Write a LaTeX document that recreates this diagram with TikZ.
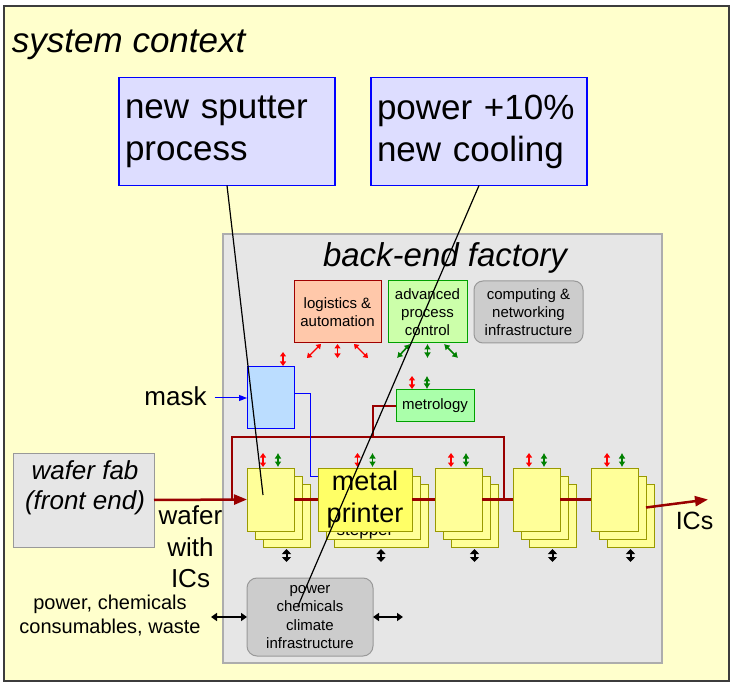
\documentclass[tikz,border=0pt]{standalone}
\usepackage{fontspec}
\setmainfont{Liberation Sans}
\usetikzlibrary{arrows.meta}
\definecolor{ctxfill}{HTML}{FFFFCC}
\definecolor{ctxline}{HTML}{3C3C3C}
\definecolor{chgfill}{HTML}{DDDDFF}
\definecolor{facfill}{HTML}{E6E6E6}
\definecolor{facline}{HTML}{ADADAD}
\definecolor{logfill}{HTML}{FFC8AA}
\definecolor{logline}{HTML}{A00000}
\definecolor{apcfill}{HTML}{CCFFAA}
\definecolor{grnline}{HTML}{00A000}
\definecolor{metfill}{HTML}{AAFFAA}
\definecolor{infill}{HTML}{CCCCCC}
\definecolor{inline}{HTML}{999999}
\definecolor{maskfill}{HTML}{BBDDFF}
\definecolor{stkfill}{HTML}{FFFF99}
\definecolor{stkfront}{HTML}{FFFF66}
\definecolor{stkline}{HTML}{999900}
\definecolor{flowred}{HTML}{990000}
\definecolor{arrgreen}{HTML}{008000}
\newcommand\szA{\fontsize{35}{42}\selectfont}
\newcommand\szB{\fontsize{33}{40}\selectfont}
\newcommand\szS{\fontsize{15}{18}\selectfont}
\begin{document}
\begin{tikzpicture}[x=1pt,y=-1pt,
  every node/.style={inner sep=0pt, outer sep=0pt},
  chg/.style={draw=blue, fill=chgfill, line width=1.3pt, minimum width=216pt, minimum height=108pt, text width=204pt, inner xsep=6pt, align=left, font=\szA},
  smallbox/.style={line width=1pt, minimum height=62pt, align=center, font=\szS},
  stk/.style={draw=stkline, fill=stkfill, line width=0.8pt, minimum width=47pt, minimum height=63pt},
  flow/.style={draw=flowred, line width=2.5pt},
  flowthin/.style={draw=flowred, line width=1.3pt},
  conn/.style={draw=black, line width=1.2pt},
  redarr/.style={red, line width=1.4pt, {Triangle[length=4.5pt,width=6pt]}-{Triangle[length=4.5pt,width=6pt]}},
  grnarr/.style={arrgreen, line width=1.6pt, {Latex[length=5.5pt,width=7pt]}-{Latex[length=5.5pt,width=7pt]}},
  blkarr/.style={black, line width=2pt, {Triangle[length=5pt,width=9pt]}-{Triangle[length=5pt,width=9pt]}},
  pwarr/.style={black, line width=2pt, {Triangle[length=6pt,width=8pt]}-{Triangle[length=6pt,width=8pt]}},
  bigtip/.style={-{Triangle[length=13pt,width=10pt]}}
]
\useasboundingbox (0,0) rectangle (731,684);
% system context
\node[draw=ctxline, fill=ctxfill, line width=2pt, minimum width=725pt, minimum height=675pt] (ctx) at (366.5,343.5) {};
\node[anchor=base west, font=\szA\itshape] (ctxt) at (12,53) {system context};
\node[chg] (sp) at (227,131.5) {new sputter\\process};
\node[chg] (pw) at (479,131.5) {power +10\%\\new cooling};
% factory
\node[draw=facline, fill=facfill, line width=1.5pt, minimum width=439pt, minimum height=429pt] (fac) at (442.5,448.5) {};
\node[anchor=base, font=\szB\itshape] (fact) at (445,267) {back-end factory};
\node[smallbox, draw=logline, fill=logfill, minimum width=87pt] (log) at (337.5,312) {logistics \&\\automation};
\node[smallbox, draw=grnline, fill=apcfill, minimum width=79pt] (apc) at (427.5,312) {advanced\\process\\control};
\node[smallbox, draw=inline, fill=infill, rounded corners=9pt, minimum width=109pt] (cmp) at (528.5,312) {computing \&\\networking\\infrastructure};
\node[smallbox, draw=grnline, fill=metfill, minimum width=78pt, minimum height=32pt] (met) at (435,406) {metrology};
\node[draw=blue, fill=maskfill, line width=1pt, minimum width=47pt, minimum height=62pt] (mask) at (270.5,398) {};
% control arrows
\draw[redarr] ([xshift=-16.5pt,yshift=-1pt]log.south) -- ++(-14,14);
\draw[redarr] ([yshift=-1pt]log.south) -- ++(0,14);
\draw[redarr] ([xshift=16.5pt,yshift=-1pt]log.south) -- ++(14,14);
\draw[grnarr] ([xshift=-17.5pt,yshift=-1pt]apc.south) -- ++(-13,14);
\draw[grnarr] ([yshift=-1pt]apc.south) -- ++(0,14);
\draw[grnarr] ([xshift=16.5pt,yshift=-1pt]apc.south) -- ++(14,14);
\draw[redarr] ([xshift=12.5pt,yshift=1pt]mask.north) -- ++(0,-14);
\draw[redarr] ([xshift=-23pt,yshift=1pt]met.north) -- ++(0,-13);
\draw[grnarr] ([xshift=-8pt,yshift=1pt]met.north) -- ++(0,-13);
% wafer fab
\node[draw=inline, fill=facfill, line width=1pt, minimum width=141pt, minimum height=94pt] (wf) at (83.5,500) {};
\node[align=center, font=\fontsize{26}{30}\selectfont\itshape] (wft) at (85,488) {wafer fab\\(front end)};
% loop and links
\coordinate (lr) at (504,499.5);
\coordinate (ltr) at (504,437);
\coordinate (ltl) at (232,437);
\coordinate (ll) at (232,499.5);
\draw[flow] (lr) -- (ltr) -- (ltl) -- (ll);
\coordinate (mt) at (373,437);
\draw[flowthin] (met.west) -| (mt);
% stacks
\foreach \n/\x/\w in {1/270.5/47,2/365/94,3/458.5/47,4/536.5/47,5/614.5/47} {
  \node[stk, minimum width=\w*1pt] (sc\n) at (\x+16,515.5) {};
  \node[stk, minimum width=\w*1pt] (sb\n) at (\x+8,507.5) {};
}
\node[font=\fontsize{17}{20}\selectfont, anchor=base] (stp) at (365,535) {stepper};
\foreach \n/\x in {1/270.5,3/458.5,4/536.5,5/614.5} {
  \node[stk] (sf\n) at (\x,499.5) {};
}
\node[stk, fill=stkfront, minimum width=94pt, align=center, font=\fontsize{27}{32}\selectfont] (sf2) at (365,499.5) {metal\\printer};
\coordinate (mb) at (310,476);
\draw[blue, line width=1pt] ([yshift=4pt]mask.east) -| (mb) -- (sf2.west |- mb);
% flow
\draw[flow, bigtip] (wf.east) -- (sf1.west);
\draw[flow] (sf1.east) -- (sf2.west);
\draw[flow] (sf2.east) -- (sf3.west);
\draw[flow] (sf3.east) -- (sf4.west);
\draw[flow] (sf4.east) -- (sf5.west);
\coordinate (icsend) at (708,499.5);
\draw[flow, bigtip] (sb5.east) -- (icsend);
\foreach \n in {1,...,5} {
  \draw[redarr] ([xshift=-7.5pt,yshift=1pt]sf\n.north) -- ++(0,-14);
  \draw[grnarr] ([xshift=7.5pt,yshift=1pt]sf\n.north) -- ++(0,-14);
  \draw[blkarr] ([yshift=-2pt]sc\n.south) -- ++(0,13);
}
% infrastructure
\node[draw=inline, fill=infill, rounded corners=10pt, line width=1pt, minimum width=126pt, minimum height=78pt, align=center, font=\fontsize{15}{18.5}\selectfont] (pb) at (310,617) {power\\chemicals\\climate\\infrastructure};
\coordinate (pl) at (211,617);
\coordinate (pr) at (403,617);
\draw[pwarr] (pl) -- (pb.west);
\draw[pwarr] (pb.east) -- (pr);
% labels
\node[align=center, font=\fontsize{20}{24}\selectfont] (supl) at (110,616) {power, chemicals\\consumables, waste};
\node[align=center, font=\fontsize{26}{31.5}\selectfont] (wwi) at (190.5,547) {wafer\\with\\ICs};
\node[font=\fontsize{25}{30}\selectfont] (ics) at (694.5,521) {ICs};
\node[font=\fontsize{26}{30}\selectfont] (mk) at (175.5,396) {mask};
\draw[blue, line width=1pt, -{Triangle[length=8pt,width=6pt]}, shorten <=8pt] (mk.east |- mask.west) -- (mask.west);
% change connectors
\coordinate (e1) at (263,495);
\coordinate (e2) at (298,606);
\draw[conn] (sp.south) -- (e1);
\draw[conn] (pw.south) -- (e2);
\end{tikzpicture}
\end{document}
